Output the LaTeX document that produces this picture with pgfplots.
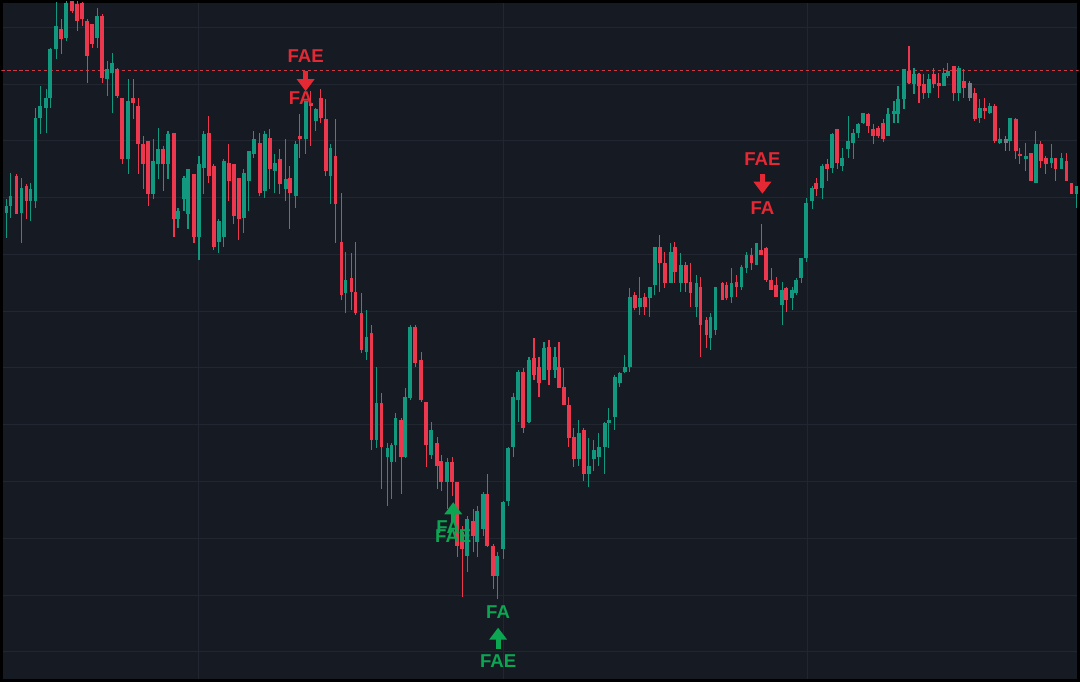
\documentclass[border=0pt]{standalone}
\usepackage{pgfplots}
\pgfplotsset{compat=1.18}
\usepackage{pgfplotstable}
\usepackage{fontspec}
\setmainfont{Liberation Sans}
\definecolor{bg}{RGB}{22,26,34}
\definecolor{gridc}{RGB}{33,38,48}
\definecolor{cgreen}{RGB}{18,152,126}
\definecolor{cred}{RGB}{236,56,78}
\definecolor{cgrey}{RGB}{118,122,132}
\definecolor{lred}{RGB}{228,40,52}
\definecolor{lgreen}{RGB}{12,166,82}
\definecolor{dashred}{RGB}{205,58,70}

\pgfplotstableread{
x o h l c g
5 212 198 238 205 0
9 205 172 217 195 0
15 175 173 213 213 0
20 212 177 243 187 0
25 185 183 218 200 0
29 200 182 220 188 0
34 200 107 207 117 0
39 117 85 133 105 0
45 107 88 132 97 0
49 97 47 107 48 0
55 48 0 58 25 0
60 28 18 53 38 0
65 37 -10 40 2 0
71 -5 -15 12 10 0
76 3 -5 30 20 0
81 2 0 25 18 0
86 20 18 82 55 0
91 23 23 47 43 0
96 37 7 47 15 0
101 15 13 82 77 0
106 78 60 95 68 0
111 72 52 112 62 0
116 68 67 97 95 0
121 97 97 163 158 0
127 158 78 173 100 0
132 97 78 118 102 0
137 105 97 173 143 0
142 143 135 188 163 0
147 140 140 205 193 0
152 193 138 198 160 0
157 163 127 178 148 0
162 148 145 190 163 0
167 163 130 178 133 0
173 132 132 237 218 0
177 218 207 227 210 0
183 198 175 210 177 0
187 213 168 228 168 0
193 173 173 243 237 0
198 237 155 260 163 0
203 167 130 193 133 0
208 132 115 182 175 0
213 165 163 250 247 0
218 242 218 253 220 0
223 237 158 247 160 0
228 162 143 200 180 0
233 163 163 223 215 0
238 177 177 240 218 0
243 217 168 233 172 0
248 180 150 210 150 0
253 153 130 157 138 0
259 142 132 195 192 0
264 190 130 197 133 0
269 137 128 188 168 0
274 170 153 192 162 0
279 158 148 193 183 0
285 188 138 200 178 0
289 177 165 228 192 0
295 195 140 207 143 0
299 135 113 157 138 0
305 138 100 153 100 0
310 102 90 145 105 0
315 120 107 130 108 0
320 97 88 122 117 0
325 118 98 175 170 0
330 175 143 203 147 0
335 155 118 243 203 0
341 242 192 300 295 0
345 293 252 313 280 0
351 278 253 310 292 0
355 292 242 315 313 0
361 313 293 353 350 0
366 352 310 360 337 0
371 333 325 450 440 0
376 440 367 448 403 0
381 403 393 490 447 0
387 457 443 507 448 0
391 463 443 500 445 0
395 445 413 463 418 0
401 420 418 495 457 0
405 457 388 458 397 0
410 398 325 400 327 0
415 327 325 367 363 0
421 360 352 402 400 0
426 402 402 468 445 0
431 455 422 460 430 0
437 443 437 490 467 0
441 462 455 492 483 0
447 483 458 510 463 0
452 463 457 497 483 0
457 483 483 558 547 0
462 533 527 598 550 0
467 557 517 573 520 0
473 522 510 553 537 0
477 543 507 558 512 0
483 530 493 537 495 0
487 495 475 548 547 0
493 547 545 590 577 0
497 577 553 600 557 0
503 550 502 560 503 0
508 502 447 507 448 0
513 447 393 457 397 0
518 400 370 422 372 0
523 372 368 433 428 0
529 422 357 423 360 0
534 358 338 380 375 0
539 367 357 397 383 0
544 380 342 380 348 0
549 347 340 385 370 0
555 370 347 378 357 0
559 367 342 388 388 0
564 387 368 405 405 0
569 405 397 447 438 0
574 437 428 468 460 0
579 460 420 467 433 0
584 430 428 482 475 0
589 475 438 488 467 0
594 460 440 472 450 0
599 457 433 467 447 0
605 447 422 475 423 0
609 423 408 448 420 0
615 417 375 430 377 0
620 383 372 387 373 0
625 372 355 373 367 0
630 367 288 372 297 0
635 295 292 310 308 0
640 307 277 315 298 0
645 297 293 315 307 0
650 298 287 317 287 0
655 285 247 295 247 0
660 247 235 292 263 0
665 263 252 288 283 0
671 283 243 283 252 0
675 247 242 283 272 0
681 283 253 292 265 0
686 265 262 292 283 0
691 282 263 307 293 0
697 307 275 317 283 0
701 287 277 357 325 0
707 320 317 348 335 0
711 338 313 350 317 0
716 330 287 335 287 0
723 283 282 300 300 0
727 285 282 300 298 0
732 297 268 303 283 0
737 282 275 297 287 0
742 287 265 290 267 0
747 268 252 273 255 0
752 255 248 270 263 0
757 265 243 265 243 0
762 250 223 255 255 0
767 248 247 282 280 0
772 280 268 290 290 0
777 285 277 297 297 0
783 305 282 325 290 0
787 288 287 312 300 0
793 298 287 310 290 0
797 293 278 295 280 0
802 278 258 283 258 0
807 258 197 262 202 0
813 200 185 208 187 0
817 182 177 195 188 0
823 187 163 198 165 0
828 163 158 180 168 0
833 167 132 172 133 0
838 128 128 168 162 0
843 165 147 170 157 0
849 148 115 157 140 0
854 142 128 158 132 0
859 132 122 137 123 0
864 122 112 123 112 0
869 113 112 132 125 0
874 128 123 143 135 0
879 127 125 137 135 0
884 122 118 141 138 0
889 135 107 135 113 0
895 113 100 122 110 0
899 113 85 122 98 0
905 98 68 108 68 0
910 70 45 83 82 0
915 83 67 93 73 0
920 73 72 102 85 0
925 83 73 98 92 0
930 92 73 97 78 0
935 73 67 87 83 0
940 82 72 97 85 0
945 85 67 85 72 0
949 75 62 77 70 0
955 65 65 100 92 0
960 92 65 100 67 0
965 80 68 97 87 0
971 82 80 100 97 1
976 92 87 120 118 0
981 117 98 122 107 0
986 107 97 118 110 0
991 112 102 113 105 0
996 105 103 142 140 0
1001 142 127 143 138 0
1007 138 135 150 142 1
1011 140 117 150 117 0
1017 118 117 158 150 0
1021 153 147 163 155 0
1027 158 142 170 155 0
1032 152 152 180 180 0
1037 182 130 182 143 0
1042 143 140 167 160 0
1047 157 155 173 163 0
1053 162 143 167 157 0
1057 157 157 180 168 0
1063 168 152 168 157 0
1068 160 152 180 180 0
1073 182 182 193 193 0
1078 193 185 207 185 0
}\candles

\begin{document}
\begin{tikzpicture}
\begin{axis}[
  width=538.5pt, height=339.5pt, scale only axis,
  xmin=0, xmax=1080, ymin=0, ymax=682, y dir=reverse,
  axis background/.style={fill=bg},
  axis line style={draw=black, line width=1.5pt},
  xtick={198,503,808},
  ytick={26,83,140,197,254,311,368,425,482,539,597,653},
  xticklabels={}, yticklabels={},
  major tick length=0pt,
  grid=major,
  major grid style={draw=gridc, line width=0.5pt},
  clip=true,
]
% dashed level
\addplot[draw=dashred, line width=0.55pt, dash pattern=on 1.6pt off 1.4pt] coordinates {(0,69) (1080,69)};

% wicks
\addplot[draw=none, mark=none, error bars/.cd, y dir=both, y explicit, error mark=none,
  error bar style={draw=cgreen, line width=0.55pt}]
  table[x=x, y expr={((\thisrow{c}<\thisrow{o}) && (\thisrow{g}==0)) ? (\thisrow{h}+\thisrow{l})/2 : nan},
        y error expr={(\thisrow{l}-\thisrow{h})/2}] {\candles};
\addplot[draw=none, mark=none, error bars/.cd, y dir=both, y explicit, error mark=none,
  error bar style={draw=cred, line width=0.55pt}]
  table[x=x, y expr={((\thisrow{c}>=\thisrow{o}) && (\thisrow{g}==0)) ? (\thisrow{h}+\thisrow{l})/2 : nan},
        y error expr={(\thisrow{l}-\thisrow{h})/2}] {\candles};
\addplot[draw=none, mark=none, error bars/.cd, y dir=both, y explicit, error mark=none,
  error bar style={draw=cgrey, line width=0.55pt}]
  table[x=x, y expr={(\thisrow{g}==1) ? (\thisrow{h}+\thisrow{l})/2 : nan},
        y error expr={(\thisrow{l}-\thisrow{h})/2}] {\candles};

% bodies
\addplot[draw=none, mark=none, error bars/.cd, y dir=both, y explicit, error mark=none,
  error bar style={draw=cgreen, line width=1.9pt}]
  table[x=x, y expr={((\thisrow{c}<\thisrow{o}) && (\thisrow{g}==0)) ? (\thisrow{o}+\thisrow{c})/2 : nan},
        y error expr={max(abs(\thisrow{o}-\thisrow{c})/2,0.6)}] {\candles};
\addplot[draw=none, mark=none, error bars/.cd, y dir=both, y explicit, error mark=none,
  error bar style={draw=cred, line width=1.9pt}]
  table[x=x, y expr={((\thisrow{c}>=\thisrow{o}) && (\thisrow{g}==0)) ? (\thisrow{o}+\thisrow{c})/2 : nan},
        y error expr={max(abs(\thisrow{o}-\thisrow{c})/2,0.6)}] {\candles};
\addplot[draw=none, mark=none, error bars/.cd, y dir=both, y explicit, error mark=none,
  error bar style={draw=cgrey, line width=1.9pt}]
  table[x=x, y expr={(\thisrow{g}==1) ? (\thisrow{o}+\thisrow{c})/2 : nan},
        y error expr={max(abs(\thisrow{o}-\thisrow{c})/2,0.6)}] {\candles};

% signals
\tikzset{lbl/.style={font=\bfseries\fontsize{9.3pt}{9.3pt}\selectfont, inner sep=0pt}}
% red 1
\node[lbl, text=lred] at (axis cs:305,55) {FAE};
\fill[lred] (axis cs:302.5,70) rectangle (axis cs:307.5,79);
\fill[lred] (axis cs:296,78) -- (axis cs:314,78) -- (axis cs:305,90) -- cycle;
\node[lbl, text=lred] at (axis cs:300,97) {FA};
% red 2
\node[lbl, text=lred] at (axis cs:763,158) {FAE};
\fill[lred] (axis cs:760.5,173) rectangle (axis cs:765.5,182);
\fill[lred] (axis cs:754,181) -- (axis cs:772,181) -- (axis cs:763,193) -- cycle;
\node[lbl, text=lred] at (axis cs:763,208) {FA};
% green 1
\fill[lgreen] (axis cs:444,515) -- (axis cs:462,515) -- (axis cs:453,503) -- cycle;
\fill[lgreen] (axis cs:450.5,514) rectangle (axis cs:455.5,523);
\node[lbl, text=lgreen] at (axis cs:448,528) {FA};
\node[lbl, text=lgreen] at (axis cs:453,537) {FAE};
% green 2
\node[lbl, text=lgreen] at (axis cs:498,613) {FA};
\fill[lgreen] (axis cs:489,641) -- (axis cs:507,641) -- (axis cs:498,629) -- cycle;
\fill[lgreen] (axis cs:495.5,640) rectangle (axis cs:500.5,650);
\node[lbl, text=lgreen] at (axis cs:498,662) {FAE};
\end{axis}
\pgfresetboundingbox
\path[use as bounding box] ([shift={(-0.75pt,-0.75pt)}]current axis.south west) rectangle ([shift={(0.75pt,0.75pt)}]current axis.north east);
\end{tikzpicture}
\end{document}
